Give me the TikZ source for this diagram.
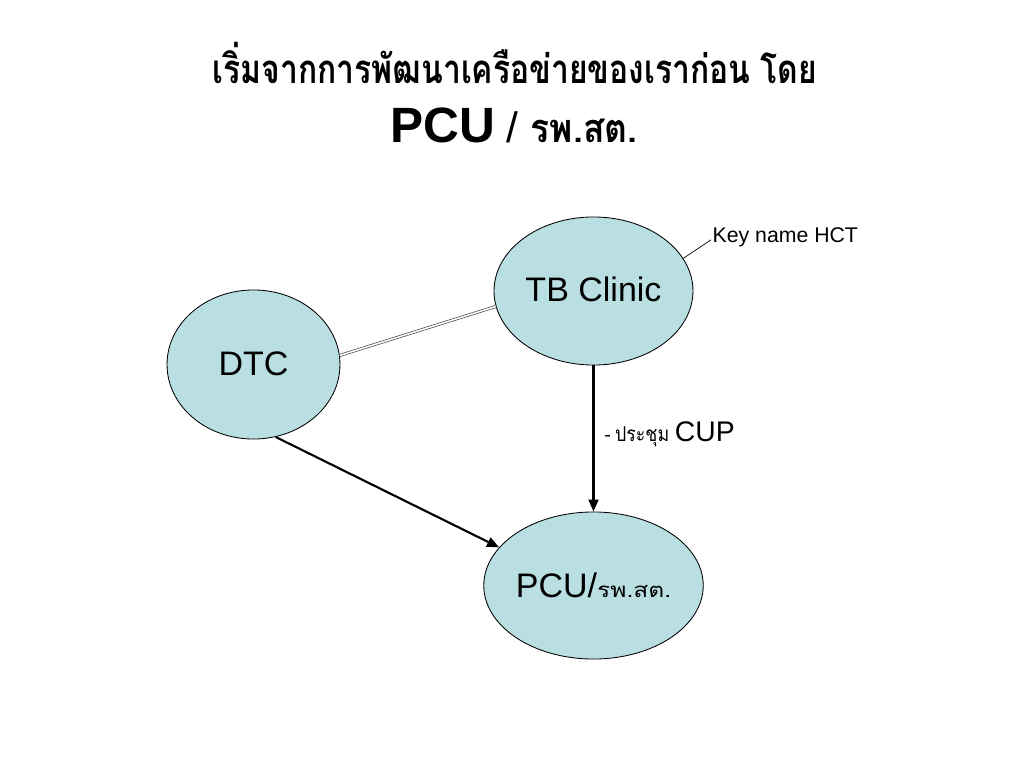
\documentclass[tikz,border=0pt]{standalone}
\usepackage{graphicx}
\usepackage{fontspec}
\setmainfont{Liberation Sans}
\newfontfamily\thai[Script=Thai]{Loma}
\usetikzlibrary{shapes.geometric,arrows.meta}
\definecolor{bubble}{RGB}{186,223,227}
\begin{document}
\begin{tikzpicture}[x=0.703125bp,y=-0.703125bp,
  bub/.style={ellipse,draw=black,line width=0.6pt,fill=bubble,inner sep=0pt,font=\fontsize{24}{28}\selectfont},
  arr/.style={line width=1.5pt,-{Triangle[length=8.5pt,width=7pt]}},
  dbl/.style={draw=gray!60!black,double=white,double distance=1.1pt,line width=0.5pt},
  callout/.style={line width=0.5pt}]
\useasboundingbox (0,0) rectangle (1024,778);
\fill[white] (0,0) rectangle (1024,778);
% title
\node[anchor=base,inner sep=0pt] (t1) at (515,84) {\resizebox{425bp}{29bp}{\thai\bfseries เริ่มจากการพัฒนาเครือข่ายของเราก่อน โดย}};
\node[anchor=base west,inner sep=0pt] (t2) at (390,143) {{\fontsize{35}{40}\selectfont\bfseries PCU}\hspace{8bp}{\fontsize{30}{36}\selectfont /}\hspace{9bp}\resizebox{75bp}{16.5bp}{\thai\bfseries รพ.สต.}};
% bubbles
\node[bub,minimum width=139.9bp,minimum height=104.1bp] (tb) at (593.5,291) {\raisebox{2bp}{TB Clinic}};
\node[bub,minimum width=121.6bp,minimum height=104.8bp] (dtc) at (253.5,364.5) {\raisebox{1.5bp}{DTC}};
\node[bub,minimum width=138.5bp,minimum height=103.4bp] (pcu) at (593.5,585.5) {PCU/\resizebox{52bp}{8.5bp}{\thai รพ.สต.}};
% labels
\node[anchor=west,inner sep=1pt,font=\fontsize{15}{18}\selectfont] (key) at (711,237) {Key name HCT};
\node[anchor=base west,inner sep=0pt] (cup) at (604,441) {{\fontsize{14}{16}\selectfont -}\hspace{3bp}\resizebox{38bp}{10.5bp}{\thai ประชุม}\hspace{4bp}{\fontsize{20}{24}\selectfont CUP}};
% connectors
\draw[dbl] (dtc.6) -- (tb.189);
\draw[arr] (dtc.-73.5) -- (pcu.158.8);
\draw[arr] (tb.south) -- (pcu.north);
\draw[callout] (tb.20) -- ([yshift=-2bp]key.west);
\end{tikzpicture}
\end{document}
